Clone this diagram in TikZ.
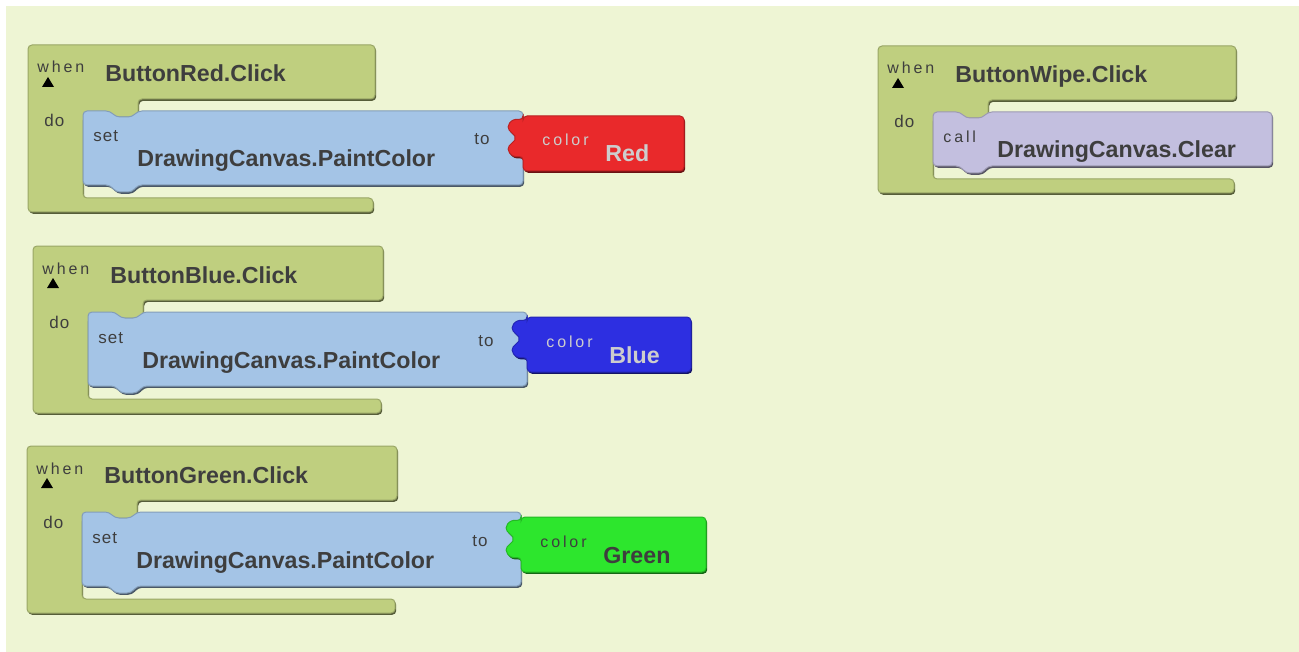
\documentclass[tikz,border=0pt]{standalone}
\usepackage{fontspec}
\setmainfont{Liberation Sans}
\newfontfamily\kwfont[LetterSpace=18]{Liberation Sans}
\newfontfamily\plainfont[LetterSpace=6]{Liberation Sans}
\usetikzlibrary{positioning}

\definecolor{bgcol}{RGB}{238,245,212}
\definecolor{evtcol}{RGB}{191,207,127}
\definecolor{setcol}{RGB}{164,196,230}
\definecolor{callcol}{RGB}{195,191,223}
\definecolor{redcol}{RGB}{233,41,43}
\definecolor{bluecol}{RGB}{45,47,225}
\definecolor{greencol}{RGB}{45,230,45}
\definecolor{txtcol}{RGB}{62,62,62}
\definecolor{paletxt}{RGB}{205,205,205}

\tikzset{blockshape/.style={fill=#1, draw=#1!80!black, line width=0.5pt, rounded corners=2pt,
    preaction={fill=#1!45!black, transform canvas={xshift=0.6pt,yshift=-0.9pt}}}}

% C-shaped event block: #1 name, #2 left, #3 top, #4 right end, #5 body height, #6 title
\newcommand{\eventblock}[6]{%
  \path[blockshape=evtcol] (#2,#3) -- (#4,#3) -- (#4,{#3+54}) -- ({#2+110},{#3+54})
    -- ({#2+110},{#3+72}) -- ({#2+55},{#3+72}) -- ({#2+55},{#3+79+#5})
    -- ({#4-2},{#3+79+#5}) -- ({#4-2},{#3+93+#5}) -- (#2,{#3+93+#5}) -- cycle;
  \node[kw] (#1when) at ({#2+9},{#3+28}) {when};
  \fill[black] ({#2+14},{#3+42}) -- ({#2+26},{#3+42}) -- ({#2+20},{#3+32}) -- cycle;
  \node[title] (#1evt) at ({#2+77},{#3+37}) {#6};
  \node[kwplain] (#1do) at ({#2+16},{#3+82}) {do};
}

% statement block with notch on top and tab below: #1 colour, #2 left, #3 top, #4 right, #5 height
\newcommand{\stmtblock}[5]{%
  \path[blockshape=#1] (#2,#3) -- ({#2+27},#3) -- ({#2+33},{#3+6}) -- ({#2+49},{#3+6})
    -- ({#2+55},#3) -- (#4,#3) -- (#4,{#3+#5}) -- ({#2+55},{#3+#5}) -- ({#2+49},{#3+#5+7})
    -- ({#2+33},{#3+#5+7}) -- ({#2+27},{#3+#5}) -- (#2,{#3+#5}) -- cycle;
}

% set DrawingCanvas.PaintColor: #1 name, #2 left, #3 top, #4 right
\newcommand{\setpaint}[4]{%
  \stmtblock{setcol}{#2}{#3}{#4}{74}
  \node[kwplain] (#1set) at ({#2+10},{#3+31}) {set};
  \node[title] (#1prop) at ({#2+54},{#3+56}) {DrawingCanvas.PaintColor};
  \node[kwplain] (#1to) at ({#4-49},{#3+34}) {to};
}

% colour value with plug: #1 name, #2 fill, #3 text, #4 left, #5 top, #6 right, #7 value
\newcommand{\colourvalue}[7]{%
  \path[blockshape=#2] (#4,#5) -- (#6,#5) -- (#6,{#5+55}) -- (#4,{#5+55}) -- (#4,{#5+40})
    .. controls ({#4-13},{#5+42}) and ({#4-17},{#5+33}) .. ({#4-11},{#5+27})
    .. controls ({#4-8},{#5+24}) and ({#4-8},{#5+20}) .. ({#4-11},{#5+17})
    .. controls ({#4-17},{#5+11}) and ({#4-13},{#5+2}) .. (#4,{#5+4}) -- cycle;
  \node[kw,text=#3] (#1kw) at ({#4+19},{#5+30}) {color};
  \node[title,text=#3] (#1val) at ({#4+82},{#5+46}) {#7};
}

\begin{document}
\begin{tikzpicture}[x=0.5pt,y=-0.5pt,
  kw/.style={font=\kwfont\fontsize{8}{9}\selectfont, text=txtcol, anchor=base west, inner sep=0pt},
  kwplain/.style={kw, font=\plainfont\fontsize{8.5}{9}\selectfont},
  title/.style={font=\bfseries\fontsize{11.6}{13}\selectfont, text=txtcol, anchor=base west, inner sep=0pt}]

  % ------------------- Workspace ------------------- %
  \useasboundingbox (0,0) rectangle (1299,652);
  \fill[white] (0,0) rectangle (1299,652);
  \fill[bgcol] (6,6) rectangle (1299,652);

  % ------------------- ButtonRed ------------------- %
  \eventblock{red}{28}{45}{375}{74}{ButtonRed.Click}
  \setpaint{red}{83}{111}{523}
  \colourvalue{red}{redcol}{paletxt}{523}{116}{684}{Red}

  % ------------------- ButtonBlue ------------------- %
  \eventblock{blue}{33}{246}{383}{74}{ButtonBlue.Click}
  \setpaint{blue}{88}{312}{527}
  \colourvalue{blue}{bluecol}{paletxt}{527}{317}{691}{Blue}

  % ------------------- ButtonGreen ------------------- %
  \eventblock{green}{27}{446}{397}{74}{ButtonGreen.Click}
  \setpaint{green}{82}{512}{521}
  \colourvalue{green}{greencol}{txtcol}{521}{517}{706}{Green}

  % ------------------- ButtonWipe ------------------- %
  \eventblock{wipe}{878}{46}{1236}{54}{ButtonWipe.Click}
  \stmtblock{callcol}{933}{112}{1272}{54}
  \node[kw] (wipecall) at (943,143) {call};
  \node[title] (wipeclear) at (997,158) {DrawingCanvas.Clear};
\end{tikzpicture}
\end{document}
